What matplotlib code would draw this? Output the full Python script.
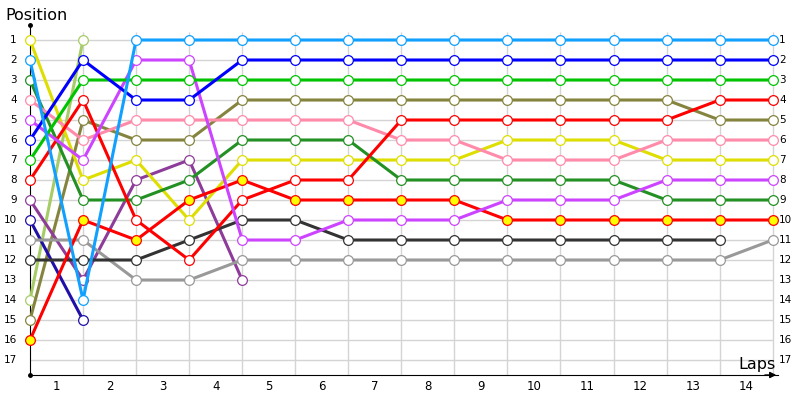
import numpy as np
import matplotlib
matplotlib.use('Agg')
import matplotlib.pyplot as plt

nan = np.nan

laps = list(range(1, 15))
positions = list(range(1, 18))

# position of each driver at every column (start + 14 laps)
light_blue = [2, 14, 1, 1, 1, 1, 1, 1, 1, 1, 1, 1, 1, 1, 1]
blue = [6, 2, 4, 4, 2, 2, 2, 2, 2, 2, 2, 2, 2, 2, 2]
green = [7, 3, 3, 3, 3, 3, 3, 3, 3, 3, 3, 3, 3, 3, 3]
olive = [15, 5, 6, 6, 4, 4, 4, 4, 4, 4, 4, 4, 4, 5, 5]
pink = [4, 6, 5, 5, 5, 5, 5, 6, 6, 7, 7, 7, 6, 6, 6]
dark_green = [3, 9, 9, 8, 6, 6, 6, 8, 8, 8, 8, 8, 9, 9, 9]
yellow = [1, 8, 7, 10, 7, 7, 7, 7, 7, 6, 6, 6, 7, 7, 7]
red = [8, 4, 10, 12, 9, 8, 8, 5, 5, 5, 5, 5, 5, 4, 4]
red_yellow = [16, 10, 11, 9, 8, 9, 9, 9, 9, 10, 10, 10, 10, 10, 10]
violet = [5, 7, 2, 2, 11, 11, 10, 10, 10, 9, 9, 9, 8, 8, 8]
dark_gray = [12, 12, 12, 11, 10, 10, 11, 11, 11, 11, 11, 11, 11, 11, nan]
gray = [11, 11, 13, 13, 12, 12, 12, 12, 12, 12, 12, 12, 12, 12, 11]
purple = [9, 13, 8, 7, 13] + [nan] * 10
navy = [10, 15] + [nan] * 13
light_green = [14, 1] + [nan] * 13

series = [
    (light_green, '#a6cc66', 'white'),
    (olive, '#85843f', 'white'),
    (navy, '#2010a8', 'white'),
    (purple, '#8e3c9a', 'white'),
    (gray, '#999999', 'white'),
    (dark_gray, '#333333', 'white'),
    (yellow, '#dede00', 'white'),
    (dark_green, '#239023', 'white'),
    (pink, '#ff8aaa', 'white'),
    (red, '#ff0000', 'white'),
    (red_yellow, '#ff0000', '#ffff00'),
    (violet, '#cc44ff', 'white'),
    (green, '#00c400', 'white'),
    (blue, '#0000ff', 'white'),
    (light_blue, '#10a0ff', 'white'),
]

fig = plt.figure(figsize=(8, 4), dpi=100)
ax = fig.add_axes([30 / 800, 25 / 400, 748 / 800, 350 / 400])
ax.set_xlim(0, 14.1)
ax.set_ylim(17.75, 0.25)

cols = np.arange(15)

# grid
ax.hlines(positions, 0, 14, color='#d4d4d4', lw=1, zorder=0)
ax.vlines(cols[1:], 0.6, 17.75, color='#d4d4d4', lw=1, zorder=0)

for vals, c, fc in series:
    ax.plot(cols, vals, color=c, lw=2.2, marker='o', ms=7,
            mfc=fc, mec=c, mew=0.9, clip_on=False, zorder=3)

for s in ['top', 'right']:
    ax.spines[s].set_visible(False)
ax.spines['left'].set_color('black')
ax.spines['bottom'].set_color('black')
ax.set_xticks([])
ax.set_yticks([])

ax.plot([0, 0], [0.25, 17.75], 'ko', ms=2.5, clip_on=False)
ax.annotate('', xy=(14.12, 17.75), xytext=(13.8, 17.75),
            arrowprops=dict(arrowstyle='-|>', color='black', lw=1,
                            mutation_scale=9), annotation_clip=False)

for p in positions:
    ax.text(-0.25, p, str(p), ha='right', va='center', fontsize=7.5,
            clip_on=False)
    ax.text(14.12, p, str(p), ha='left', va='center', fontsize=7.5,
            clip_on=False)

for i, l in enumerate(laps):
    ax.text(i + 0.5, 18.3, str(l), ha='center', va='center', fontsize=8.5,
            clip_on=False)

fig.text(5 / 800, 1 - 16 / 400, 'Position', ha='left', va='center',
         fontsize=11.5)
ax.text(13.7, 17.25, 'Laps', ha='center', va='center', fontsize=11.5,
        clip_on=False)

fig.savefig('out.png', dpi=100)
